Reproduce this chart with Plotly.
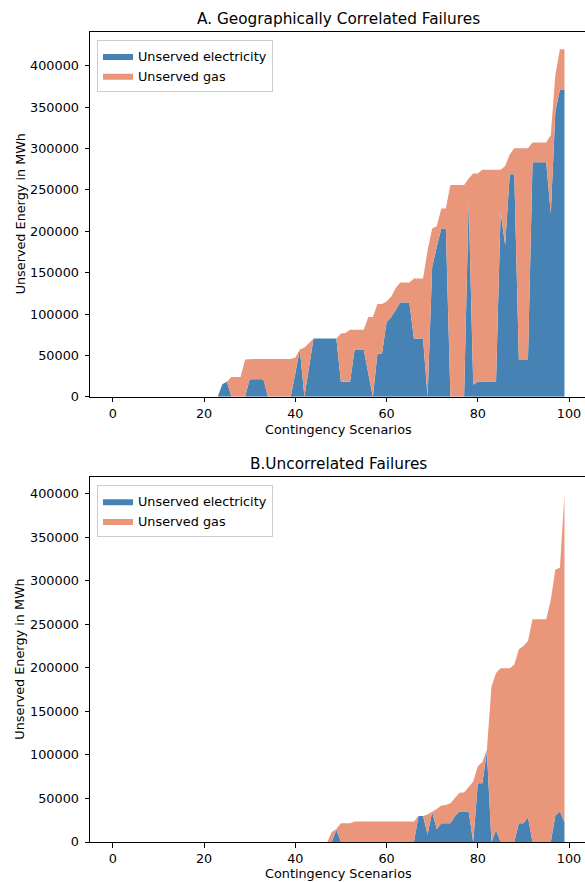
import plotly.graph_objects as go

scenarios = list(range(100))

# A. Geographically correlated failures (MWh)
elec_a = [0]*24 + [
    15000, 18000, 0, 0, 0, 0, 21000, 21000, 21000, 21000,      # 24-33
    0, 0, 0, 0, 0, 0, 28000, 57000, 0, 35000,                 # 34-43
    70500, 70500, 70500, 70500, 70500, 70500, 18000, 18000, 18000, 57000,  # 44-53
    57000, 57000, 28000, 0, 52000, 52000, 90000, 96000, 105000, 114000,    # 54-63
    114000, 114000, 70500, 70500, 70500, 0, 157000, 181000, 203500, 203500,  # 64-73
    0, 0, 0, 0, 237000, 14500, 18000, 18500, 18500, 18500,    # 74-83
    18500, 223500, 183500, 269000, 269000, 44500, 44500, 44500, 283500, 283500,  # 84-93
    283500, 283500, 221500, 344500, 371500, 371500,           # 94-99
]
gas_a = [0]*24 + [
    0, 0, 24000, 24000, 24000, 45000, 24500, 24500, 24500, 24500,          # 24-33
    45500, 45500, 45500, 45500, 45500, 45500, 19500, 0, 59500, 29500,      # 34-43
    0, 0, 0, 0, 0, 0, 58500, 59000, 63000, 24000,                          # 44-53
    24000, 24000, 68500, 96500, 60000, 60000, 25000, 25000, 26500, 24000,  # 54-63
    24000, 24000, 72500, 72500, 72500, 177000, 46500, 25000, 24000, 24000, # 64-73
    256000, 256000, 256000, 256000, 27000, 255500, 252000, 256000, 256000, 256000,  # 74-83
    256000, 51000, 95500, 24000, 31500, 256000, 256000, 256000, 24000, 24000,      # 84-93
    24000, 24000, 95000, 44500, 48500, 48500,                              # 94-99
]

# B. Uncorrelated failures (MWh)
elec_b = [0]*47 + [
    0, 0, 14000, 0, 0, 0,                                   # 47-52
    0, 0, 0, 0, 0, 0, 0, 0, 0, 0, 0, 0, 0, 0,               # 53-66
    30000, 30000, 8500, 34500, 15000, 21500, 21500, 21500, 30000, 35000,   # 67-76
    35000, 35000, 0, 67500, 67500, 104000, 0, 13500, 0, 0,                 # 77-86
    0, 0, 21500, 21500, 28500, 0, 0, 0, 0, 0,                              # 87-96
    30500, 35000, 23000,                                                   # 97-99
]
gas_b = [0]*47 + [
    0, 11500, 1000, 21500, 21500, 21500,                    # 47-52
    23500, 23500, 23500, 23500, 23500, 23500, 23500, 23500, 23500, 23500, 23500, 23500, 23500, 23500,  # 53-66
    0, 0, 23000, 0, 23000, 20500, 21000, 23000, 20000, 21500,              # 67-76
    22000, 28500, 69500, 19500, 24500, 2000, 178500, 180500, 199500, 199500,  # 77-86
    199500, 203500, 200000, 203500, 202500, 256000, 256000, 256000, 256000, 278000,  # 87-96
    282500, 280000, 376000,                                                # 97-99
]

titles = ["A. Geographically Correlated Failures", "B.Uncorrelated Failures"]
x_label = "Contingency Scenarios"
y_label = "Unserved Energy in MWh"
y_ticks = list(range(0, 400001, 50000))
x_ticks = list(range(0, 101, 20))

BLUE = "#4682B4"
SALMON = "#E9967A"
FONT = "DejaVu Sans"

W, H = 585, 882
ML, MR, MT, MB = 90, 0, 31.7, 39.7
PW, PH = W - ML - MR, H - MT - MB


def px_x(p):
    return (p - ML) / PW


def px_y(p):
    return (H - MB - p) / PH


fig = go.Figure()

for k, (elec, gas, ax, lg) in enumerate([
        (elec_a, gas_a, "", "legend"),
        (elec_b, gas_b, "2", "legend2")]):
    fig.add_trace(go.Scatter(
        x=scenarios, y=elec, name="Unserved electricity", mode="lines",
        stackgroup="s" + str(k), line=dict(width=0, color=BLUE), fillcolor=BLUE,
        xaxis="x" + ax, yaxis="y" + ax, legend=lg, hoverinfo="skip"))
    fig.add_trace(go.Scatter(
        x=scenarios, y=gas, name="Unserved gas", mode="lines",
        stackgroup="s" + str(k), line=dict(width=0, color=SALMON), fillcolor=SALMON,
        xaxis="x" + ax, yaxis="y" + ax, legend=lg, hoverinfo="skip"))

tot_a = max(e + g for e, g in zip(elec_a, gas_a))
tot_b = max(e + g for e, g in zip(elec_b, gas_b))

axis_common = dict(
    showline=True, linecolor="black", linewidth=1, showgrid=False, zeroline=False,
    ticks="outside", ticklen=4.5, tickwidth=1, tickcolor="black",
    tickfont=dict(family=FONT, size=12.8, color="black"), automargin=False,
)

top_dom = [px_y(396.7), px_y(31.7)]
bot_dom = [px_y(842.3), px_y(477.3)]

legend_common = dict(xanchor="left", yanchor="top", bgcolor="white",
                     bordercolor="#cccccc", borderwidth=1, traceorder="normal",
                     font=dict(family=FONT, size=12.8, color="black"), tracegroupgap=0)

fig.update_layout(
    width=W, height=H,
    margin=dict(l=ML, r=MR, t=MT, b=MB, pad=0),
    paper_bgcolor="white", plot_bgcolor="white",
    font=dict(family=FONT, size=12.8, color="black"),
    hovermode=False,
    xaxis=dict(domain=[0, 1], anchor="y", range=[-5.0, 103.5], tickvals=x_ticks,
               mirror=True, **axis_common),
    yaxis=dict(domain=top_dom, anchor="x", range=[0, tot_a * 1.05], tickvals=y_ticks,
               tickformat="d", ticklabelstandoff=3, **axis_common),
    xaxis2=dict(domain=[0, 1], anchor="y2", range=[-5.0, 103.5], tickvals=x_ticks,
                mirror=True, **axis_common),
    yaxis2=dict(domain=bot_dom, anchor="x2", range=[0, tot_b * 1.05], tickvals=y_ticks,
                tickformat="d", ticklabelstandoff=3, **axis_common),
    legend=dict(x=px_x(97), y=px_y(40), **legend_common),
    legend2=dict(x=px_x(97), y=px_y(485.5), **legend_common),
    showlegend=True,
)

cx = px_x(338.7)
annots = [
    dict(text=titles[0], x=cx, y=px_y(19), font=dict(size=15.3)),
    dict(text=titles[1], x=cx, y=px_y(464.5), font=dict(size=15.3)),
    dict(text=x_label, x=cx, y=px_y(429.5), font=dict(size=12.8)),
    dict(text=x_label, x=cx, y=px_y(874), font=dict(size=12.8)),
    dict(text=y_label, x=px_x(20), y=px_y(214.2), textangle=-90, font=dict(size=12.8)),
    dict(text=y_label, x=px_x(20), y=px_y(659.8), textangle=-90, font=dict(size=12.8)),
]
for a in annots:
    a.update(xref="paper", yref="paper", showarrow=False, xanchor="center", yanchor="middle")
    a["font"].update(family=FONT, color="black")
    fig.add_annotation(**a)

fig.write_html(
    "out.html",
    config={"displayModeBar": False, "staticPlot": True},
    post_script="document.body.style.margin='0';document.body.style.overflow='hidden';",
)
